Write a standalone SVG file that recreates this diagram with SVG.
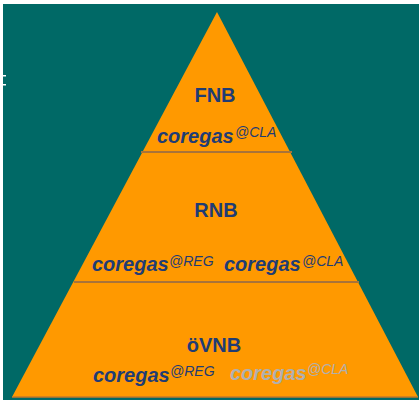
<svg xmlns="http://www.w3.org/2000/svg" width="419" height="405" viewBox="0 0 419 405">
<style>
.title{font-family:"Liberation Sans",Arial,sans-serif;font-weight:bold;font-size:20px;fill:#1f3c74;text-anchor:middle}
.main{font-family:"Liberation Sans",Arial,sans-serif;font-weight:bold;font-style:italic;font-size:20px}
.sup{font-family:"Liberation Sans",Arial,sans-serif;font-style:italic;font-size:14px;font-weight:normal}
.blue{fill:#1f3c74}
.grey{fill:#b0b0b0}
.div{stroke:#a8733a;stroke-width:2;fill:none}
</style>
<rect x="0" y="0" width="419" height="405" fill="#ffffff"/>
<rect x="3" y="4" width="416" height="396" fill="#006966"/>
<rect x="3" y="75" width="3" height="1.5" fill="#ffffff"/>
<rect x="3" y="84" width="3" height="1.5" fill="#ffffff"/>
<g id="pyramid">
<polygon points="217,12 12,397 418,397" fill="#ff9900"/>
<line x1="12" y1="397" x2="418" y2="397" stroke="#c47a28" stroke-width="1.5"/>
</g>
<g id="connectors">
<line class="div" x1="141" y1="152" x2="292" y2="152"/>
<line class="div" x1="74" y1="282" x2="359" y2="282"/>
</g>
<g id="fnb">
<text class="title" x="215" y="102">FNB</text>
<text x="157" y="143" class="main blue">coregas</text>
<text x="235" y="137" class="sup blue">@CLA</text>
</g>
<g id="rnb">
<text class="title" x="216" y="217">RNB</text>
<text x="92" y="271" class="main blue">coregas</text>
<text x="169" y="266" class="sup blue">@REG</text>
<text x="224" y="271" class="main blue">coregas</text>
<text x="302" y="266" class="sup blue">@CLA</text>
</g>
<g id="ovnb">
<text class="title" x="214" y="352">öVNB</text>
<text x="93" y="382" class="main blue">coregas</text>
<text x="170" y="376" class="sup blue">@REG</text>
<text x="230" y="380" class="main grey">coregas</text>
<text x="307" y="374" class="sup grey">@CLA</text>
</g>
</svg>
